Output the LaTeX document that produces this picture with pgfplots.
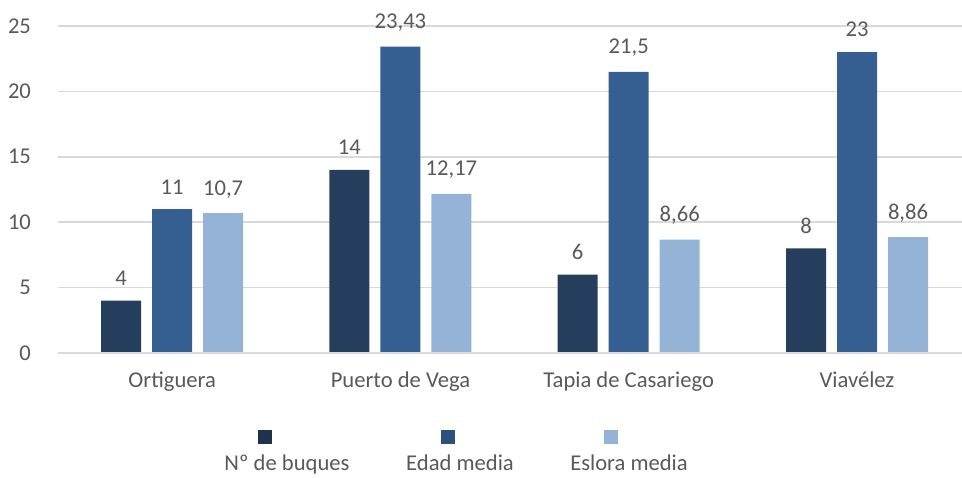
\documentclass[border=0pt]{standalone}
\usepackage{fontspec}
\setmainfont{Carlito}
\usepackage{pgfplots}
\pgfplotsset{compat=1.18}
\usetikzlibrary{calc}

\definecolor{cDark}{HTML}{253E5E}
\definecolor{cMid}{HTML}{355F91}
\definecolor{cLight}{HTML}{95B3D7}
\definecolor{txt}{HTML}{595959}
\definecolor{grd}{HTML}{D9D9D9}

\begin{document}
\begin{tikzpicture}
\begin{axis}[
    name=ax,
    scale only axis,
    width=452pt, height=163.5pt,
    ybar, bar width=20pt,
    xmin=-0.5, xmax=3.46,
    ymin=0, ymax=25,
    ytick={0,5,...,25},
    xtick=data,
    xticklabels={Ortiguera, Puerto de Vega, Tapia de Casariego, Viavélez},
    major tick length=0pt,
    axis line style={draw=none},
    axis x line*=bottom,
    ymajorgrids, grid style={grd, line width=0.8pt},
    tick label style={font=\fontsize{11.3pt}{13pt}\selectfont, text=txt},
    xticklabel style={yshift=-6pt},
    yticklabel style={xshift=-10pt},
    /pgf/number format/assume math mode=true,
    /pgf/number format/use comma,
    nodes near coords,
    every node near coord/.append style={font=\fontsize{11.3pt}{13pt}\selectfont, text=txt, yshift=4pt},
    clip=false,
]
\addplot[fill=cDark, draw=none, bar shift=-25.5pt] coordinates {(0,4) (1,14) (2,6) (3,8)};
\addplot[fill=cMid, draw=none, bar shift=0pt] coordinates {(0,11) (1,23.43) (2,21.5) (3,23)};
\addplot[fill=cLight, draw=none, bar shift=25.5pt] coordinates {(0,10.7) (1,12.17) (2,8.66) (3,8.86)};
\draw[grd, line width=1pt] (rel axis cs:0,0) -- (rel axis cs:1,0);
\end{axis}
% legend
\begin{scope}[font=\fontsize{11.3pt}{13pt}\selectfont, text=txt]
\fill[cDark!80!black] ($(ax.south west)+(103.5pt,-42pt)$) ++(-3.5pt,-3.5pt) rectangle ++(7pt,7pt);
\fill[cMid!85!black] ($(ax.south west)+(195pt,-42pt)$) ++(-3.5pt,-3.5pt) rectangle ++(7pt,7pt);
\fill[cLight] ($(ax.south west)+(276.5pt,-42pt)$) ++(-3.5pt,-3.5pt) rectangle ++(7pt,7pt);
\node[anchor=base] at ($(ax.south west)+(114.5pt,-58.5pt)$) {Nº de buques};
\node[anchor=base] at ($(ax.south west)+(201pt,-58.5pt)$) {Edad media};
\node[anchor=base] at ($(ax.south west)+(285.5pt,-58.5pt)$) {Eslora media};
\end{scope}
\pgfresetboundingbox
\path ($(ax.south west)+(-29pt,-62pt)$) rectangle ($(ax.north east)+(0pt,13pt)$);
\end{tikzpicture}
\end{document}
